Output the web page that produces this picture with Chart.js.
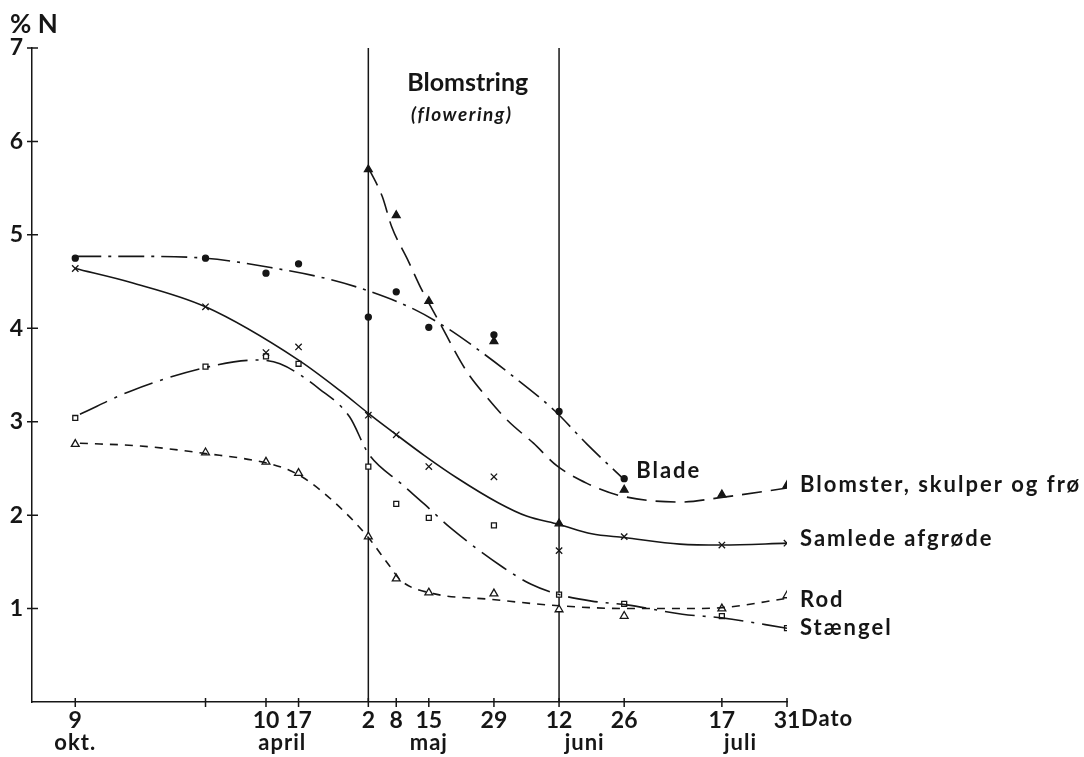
<!DOCTYPE html>
<html>
<head>
<meta charset="utf-8">
<script src="https://cdn.jsdelivr.net/npm/chart.js@4/dist/chart.umd.min.js"></script>
<style>
  html, body { margin: 0; padding: 0; background: #fff; }
  canvas { display: block; }
</style>
</head>
<body>
<canvas id="chart" width="1084" height="757"></canvas>
<script>
  "use strict";

  // x = days counted from 1 April (winter is compressed, as in the original)
  const xTicks = [-32, -4, 9, 16, 31, 37, 44, 58, 72, 86, 107, 121];
  const xTickLabels = ["9", "", "10", "17", "2", "8", "15", "29", "12", "26", "17", "31"];
  const months = ["okt.", "april", "maj", "juni", "juli"];
  const monthAt = [-32, 12.5, 44, 77.5, 111];
  const flowering = [31, 72];

  const seriesNames = ["Blade", "Blomster, skulper og frø", "Samlede afgrøde", "Rod", "Stængel"];

  // measured points
  const sampleDays = [-32, -4, 9, 16, 31, 37, 44, 58, 72, 86, 107, 121];
  const bladeVals = [4.75, 4.75, 4.59, 4.69, 4.12, 4.39, 4.01, 3.93, 3.11, 2.39, null, null];
  const blomsterVals = [null, null, null, null, 5.70, 5.21, 4.29, 3.86, 1.91, 2.27, 2.22, 2.32];
  const samledeVals = [4.64, 4.23, 3.74, 3.80, 3.07, 2.86, 2.52, 2.41, 1.62, 1.77, 1.68, 1.70];
  const rodVals = [2.76, 2.67, 2.57, 2.45, 1.77, 1.32, 1.17, 1.16, 0.99, 0.92, 1.00, 1.14];
  const staengelVals = [3.04, 3.59, 3.70, 3.62, 2.52, 2.12, 1.97, 1.89, 1.15, 1.05, 0.92, 0.79];

  // hand-drawn fitted curves
  const bladeCurveX = [-32, -20, -4, 10, 23, 31, 41, 48, 56, 62, 71, 78, 86];
  const bladeCurveY = [4.77, 4.77, 4.75, 4.65, 4.52, 4.40, 4.20, 4.00, 3.72, 3.49, 3.12, 2.76, 2.38];
  const blomsterCurveX = [31, 34, 36, 39.5, 42.5, 46, 52, 56.5, 61, 66.5, 71.5, 78, 85, 98, 107, 121];
  const blomsterCurveY = [5.72, 5.41, 5.09, 4.73, 4.41, 4.09, 3.55, 3.26, 3.01, 2.77, 2.53, 2.34, 2.21, 2.14, 2.19, 2.29];
  const samledeCurveX = [-32, -20, -4, 16, 25, 31, 36, 43, 50, 59, 65, 72, 79, 86, 98, 107, 121];
  const samledeCurveY = [4.64, 4.49, 4.23, 3.66, 3.33, 3.09, 2.90, 2.64, 2.40, 2.13, 1.99, 1.90, 1.80, 1.76, 1.69, 1.68, 1.70];
  const rodCurveX = [-31, -18, -4, 9, 14, 18, 26, 31, 35.5, 38, 45, 57, 72, 86.5, 98, 107, 121];
  const rodCurveY = [2.77, 2.74, 2.66, 2.56, 2.48, 2.37, 2.03, 1.76, 1.46, 1.30, 1.16, 1.10, 1.03, 1.00, 1.00, 1.01, 1.11];
  const staengelCurveX = [-31, -20, -4, 7, 12, 20.5, 27, 31, 38, 43, 49, 60, 66, 72, 79, 86.5, 98.5, 107, 121];
  const staengelCurveY = [3.08, 3.33, 3.58, 3.66, 3.62, 3.35, 3.05, 2.66, 2.34, 2.12, 1.85, 1.44, 1.26, 1.15, 1.08, 1.04, 0.94, 0.90, 0.79];

  const INK = "#161616";
  const FONT = "Lato, 'Open Sans', sans-serif";

  const toPts = (xs, ys) => xs.map((x, i) => ({x: x, y: ys[i]})).filter((p) => p.y !== null);

  function curve(xs, ys, dash) {
    return {
      data: toPts(xs, ys),
      borderColor: INK,
      borderWidth: 1.6,
      borderDash: dash,
      pointRadius: 0,
      cubicInterpolationMode: "monotone",
      fill: false,
    };
  }

  function marks(vals, style, filled, radius) {
    return {
      data: toPts(sampleDays, vals),
      showLine: false,
      pointStyle: style,
      pointRadius: radius,
      pointBorderColor: INK,
      pointBorderWidth: 1.3,
      pointBackgroundColor: filled ? INK : "#fff",
    };
  }

  const vline = (x) => ({
    data: [{x: x, y: 0}, {x: x, y: 7}],
    borderColor: INK,
    borderWidth: 1.5,
    pointRadius: 0,
  });

  // label position is taken from the last measured point of each series
  const labelSeries = [
    {idx: 5, dx: 12, dy: -8},
    {idx: 6, dx: 13, dy: 0},
    {idx: 7, dx: 13, dy: -4},
    {idx: 8, dx: 13, dy: 4},
    {idx: 9, dx: 13, dy: 0},
  ];

  function spaced(ctx, px) {
    if ("letterSpacing" in ctx) {
      ctx.letterSpacing = px + "px";
    }
  }

  const decor = {
    id: "decor",
    afterDraw(chart) {
      const ctx = chart.ctx;
      const xs = chart.scales.x;
      const ys = chart.scales.y;
      const area = chart.chartArea;
      ctx.save();
      ctx.strokeStyle = INK;
      ctx.fillStyle = INK;
      ctx.lineWidth = 1.5;

      // tick marks crossing the axes
      ctx.beginPath();
      for (let v = 1; v <= 7; v++) {
        const py = ys.getPixelForValue(v);
        ctx.moveTo(area.left - 5, py);
        ctx.lineTo(area.left + 6, py);
      }
      xTicks.forEach((v) => {
        const px = xs.getPixelForValue(v);
        ctx.moveTo(px, area.bottom - 4);
        ctx.lineTo(px, area.bottom + 5);
      });
      ctx.stroke();

      // month names
      ctx.font = "bold 22px " + FONT;
      ctx.textAlign = "center";
      ctx.textBaseline = "middle";
      spaced(ctx, 1);
      months.forEach((m, i) => {
        ctx.fillText(m, xs.getPixelForValue(monthAt[i]), area.bottom + 41);
      });
      ctx.textAlign = "left";
      ctx.fillText("Dato", xs.getPixelForValue(121) + 14, area.bottom + 17);

      // y title
      spaced(ctx, 0);
      ctx.font = "bold 26px " + FONT;
      ctx.fillText("% N", 10, 25);

      // flowering period
      const mid = (xs.getPixelForValue(flowering[0]) + xs.getPixelForValue(flowering[1])) / 2;
      ctx.textAlign = "center";
      ctx.font = "bold 25px " + FONT;
      ctx.fillText("Blomstring", mid + 4, 83);
      ctx.font = "italic bold 19px " + FONT;
      spaced(ctx, 1.5);
      ctx.fillText("(flowering)", mid - 2, 115);

      // series names
      ctx.textAlign = "left";
      ctx.font = "bold 22px " + FONT;
      spaced(ctx, 2);
      labelSeries.forEach((s, i) => {
        const pts = chart.getDatasetMeta(s.idx).data;
        const last = pts[pts.length - 1];
        ctx.fillText(seriesNames[i], last.x + s.dx, last.y + s.dy);
      });
      ctx.restore();
    },
  };

  new Chart(document.getElementById("chart").getContext("2d"), {
    type: "line",
    data: {
      datasets: [
        curve(bladeCurveX, bladeCurveY, [26, 7, 3, 7]),
        curve(blomsterCurveX, blomsterCurveY, [20, 9]),
        curve(samledeCurveX, samledeCurveY, []),
        curve(rodCurveX, rodCurveY, [8, 7]),
        curve(staengelCurveX, staengelCurveY, [30, 8, 3, 8]),
        marks(bladeVals, "circle", true, 3),
        marks(blomsterVals, "triangle", true, 4.5),
        marks(samledeVals, "crossRot", false, 4.5),
        marks(rodVals, "triangle", false, 4.5),
        marks(staengelVals, "rect", false, 3.5),
        vline(flowering[0]),
        vline(flowering[1]),
      ],
    },
    options: {
      responsive: false,
      animation: false,
      layout: {padding: {top: 48, right: 297, left: 0, bottom: 0}},
      plugins: {legend: {display: false}, tooltip: {enabled: false}},
      scales: {
        x: {
          type: "linear",
          min: -41.3,
          max: 121,
          afterBuildTicks: (scale) => {
            scale.ticks = xTicks.map((v) => ({value: v}));
          },
          afterFit: (scale) => {
            scale.height = 55;
          },
          ticks: {
            autoSkip: false,
            maxRotation: 0,
            padding: 5,
            color: INK,
            font: {family: FONT, size: 23, weight: "bold"},
            callback: (v, i) => xTickLabels[i],
          },
          grid: {display: false, drawTicks: false},
          border: {display: true, color: INK, width: 1.5},
        },
        y: {
          min: 0,
          max: 7,
          afterFit: (scale) => {
            scale.width = 32;
          },
          ticks: {
            stepSize: 1,
            padding: 9,
            color: INK,
            font: {family: FONT, size: 23, weight: "bold"},
            callback: (v) => (v === 0 ? "" : v),
          },
          grid: {display: false, drawTicks: false},
          border: {display: true, color: INK, width: 1.5},
        },
      },
    },
    plugins: [decor],
  });
</script>
</body>
</html>
